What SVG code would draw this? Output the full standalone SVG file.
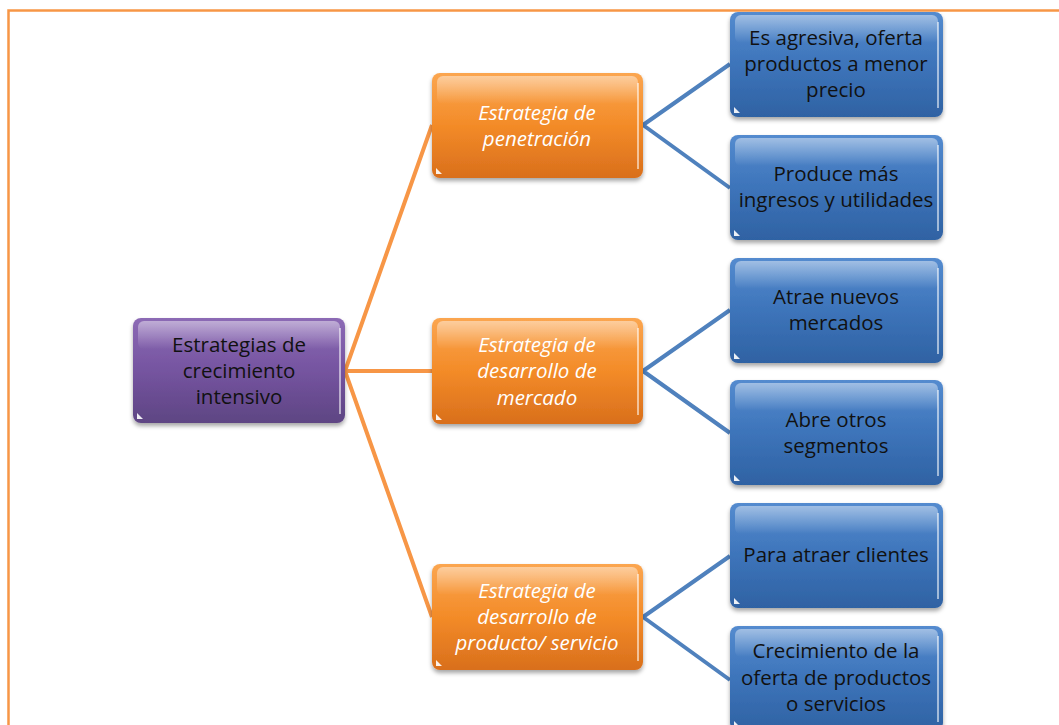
<svg xmlns="http://www.w3.org/2000/svg" width="1059" height="725" viewBox="0 0 1059 725">
<defs>
<linearGradient id="gO" x1="0" y1="0" x2="0" y2="1"><stop offset="0" stop-color="#FBA650"/><stop offset="0.5" stop-color="#F38B28"/><stop offset="1" stop-color="#D96F1C"/></linearGradient>
<linearGradient id="gB" x1="0" y1="0" x2="0" y2="1"><stop offset="0" stop-color="#548BCF"/><stop offset="0.5" stop-color="#3D74BA"/><stop offset="1" stop-color="#2F62A3"/></linearGradient>
<linearGradient id="gP" x1="0" y1="0" x2="0" y2="1"><stop offset="0" stop-color="#8C6AB5"/><stop offset="0.5" stop-color="#7554A0"/><stop offset="1" stop-color="#5E4583"/></linearGradient>
<linearGradient id="gloss" x1="0" y1="0" x2="0" y2="1"><stop offset="0" stop-color="#fff" stop-opacity="0.45"/><stop offset="1" stop-color="#fff" stop-opacity="0"/></linearGradient>
<filter id="sh" x="-10%" y="-10%" width="120%" height="130%"><feDropShadow dx="0" dy="3" stdDeviation="2" flood-color="#000" flood-opacity="0.35"/></filter>
</defs>
<style>
.t{font-family:"Open Sans",Lato,"Liberation Sans",sans-serif;font-size:20.5px;text-anchor:middle}
.tb{fill:#111}
.to{fill:#fff;font-style:italic}
.co{stroke:#F79646;stroke-width:4;fill:none}
.cb{stroke:#4F81BD;stroke-width:4;fill:none}
.gl{fill:url(#gloss)}
.ed{stroke:#fff;stroke-opacity:0.55;stroke-width:2;fill:none}
.tri{fill:#fff;fill-opacity:0.9}
</style>
<rect width="1059" height="725" fill="#fff"/>
<path d="M8.5 725 V10.5 H1059" stroke="#F79646" stroke-width="2.5" fill="none"/>
<g id="connectors">
<path class="co" d="M345 371 L432 125 M345 371 L432 371 M345 371 L432 617"/>
<path class="cb" d="M643 125 L730 64 M643 125 L730 188"/>
<path class="cb" d="M643 371 L730 310 M643 371 L730 433"/>
<path class="cb" d="M643 617 L730 556 M643 617 L730 680"/>
</g>
<g id="n0"><rect x="133" y="318" width="212" height="105" rx="8" fill="url(#gP)" filter="url(#sh)"/><rect x="138" y="321" width="202" height="28" rx="6" class="gl"/><path class="ed" d="M340 328 V414"/><path class="tri" d="M137 419 h6 l-6 -6 z"/>
<text class="t tb" x="239" y="352">Estrategias de</text><text class="t tb" x="239" y="378">crecimiento</text><text class="t tb" x="239" y="404">intensivo</text></g>
<g id="n1"><rect x="432" y="73" width="211" height="105" rx="8" fill="url(#gO)" filter="url(#sh)"/><rect x="437" y="76" width="201" height="28" rx="6" class="gl"/><path class="ed" d="M638 83 V169"/><path class="tri" d="M436 174 h6 l-6 -6 z"/>
<text class="t to" x="537" y="120">Estrategia de</text><text class="t to" x="537" y="146">penetración</text></g>
<g id="n2"><rect x="432" y="318" width="211" height="106" rx="8" fill="url(#gO)" filter="url(#sh)"/><rect x="437" y="321" width="201" height="28" rx="6" class="gl"/><path class="ed" d="M638 328 V415"/><path class="tri" d="M436 420 h6 l-6 -6 z"/>
<text class="t to" x="537" y="352">Estrategia de</text><text class="t to" x="537" y="378">desarrollo de</text><text class="t to" x="537" y="405">mercado</text></g>
<g id="n3"><rect x="432" y="564" width="211" height="106" rx="8" fill="url(#gO)" filter="url(#sh)"/><rect x="437" y="567" width="201" height="28" rx="6" class="gl"/><path class="ed" d="M638 574 V661"/><path class="tri" d="M436 666 h6 l-6 -6 z"/>
<text class="t to" x="537" y="598">Estrategia de</text><text class="t to" x="537" y="624">desarrollo de</text><text class="t to" x="537" y="650">producto/ servicio</text></g>
<g id="b1"><rect x="730" y="12" width="213" height="105" rx="8" fill="url(#gB)" filter="url(#sh)"/><rect x="735" y="15" width="203" height="28" rx="6" class="gl"/><path class="ed" d="M938 22 V108"/><path class="tri" d="M734 113 h6 l-6 -6 z"/>
<text class="t tb" x="836" y="45">Es agresiva, oferta</text><text class="t tb" x="836" y="71">productos a menor</text><text class="t tb" x="836" y="97">precio</text></g>
<g id="b2"><rect x="730" y="135" width="213" height="105" rx="8" fill="url(#gB)" filter="url(#sh)"/><rect x="735" y="138" width="203" height="28" rx="6" class="gl"/><path class="ed" d="M938 145 V231"/><path class="tri" d="M734 236 h6 l-6 -6 z"/>
<text class="t tb" x="836" y="181">Produce más</text><text class="t tb" x="836" y="207">ingresos y utilidades</text></g>
<g id="b3"><rect x="730" y="258" width="213" height="105" rx="8" fill="url(#gB)" filter="url(#sh)"/><rect x="735" y="261" width="203" height="28" rx="6" class="gl"/><path class="ed" d="M938 268 V354"/><path class="tri" d="M734 359 h6 l-6 -6 z"/>
<text class="t tb" x="836" y="304">Atrae nuevos</text><text class="t tb" x="836" y="330">mercados</text></g>
<g id="b4"><rect x="730" y="380" width="213" height="105" rx="8" fill="url(#gB)" filter="url(#sh)"/><rect x="735" y="383" width="203" height="28" rx="6" class="gl"/><path class="ed" d="M938 390 V476"/><path class="tri" d="M734 481 h6 l-6 -6 z"/>
<text class="t tb" x="836" y="427">Abre otros</text><text class="t tb" x="836" y="453">segmentos</text></g>
<g id="b5"><rect x="730" y="503" width="213" height="105" rx="8" fill="url(#gB)" filter="url(#sh)"/><rect x="735" y="506" width="203" height="28" rx="6" class="gl"/><path class="ed" d="M938 513 V599"/><path class="tri" d="M734 604 h6 l-6 -6 z"/>
<text class="t tb" x="836" y="562">Para atraer clientes</text></g>
<g id="b6"><rect x="730" y="626" width="213" height="105" rx="8" fill="url(#gB)" filter="url(#sh)"/><rect x="735" y="629" width="203" height="28" rx="6" class="gl"/><path class="ed" d="M938 636 V722"/><path class="tri" d="M734 727 h6 l-6 -6 z"/>
<text class="t tb" x="836" y="658">Crecimiento de la</text><text class="t tb" x="836" y="685">oferta de productos</text><text class="t tb" x="836" y="711">o servicios</text></g>
</svg>
